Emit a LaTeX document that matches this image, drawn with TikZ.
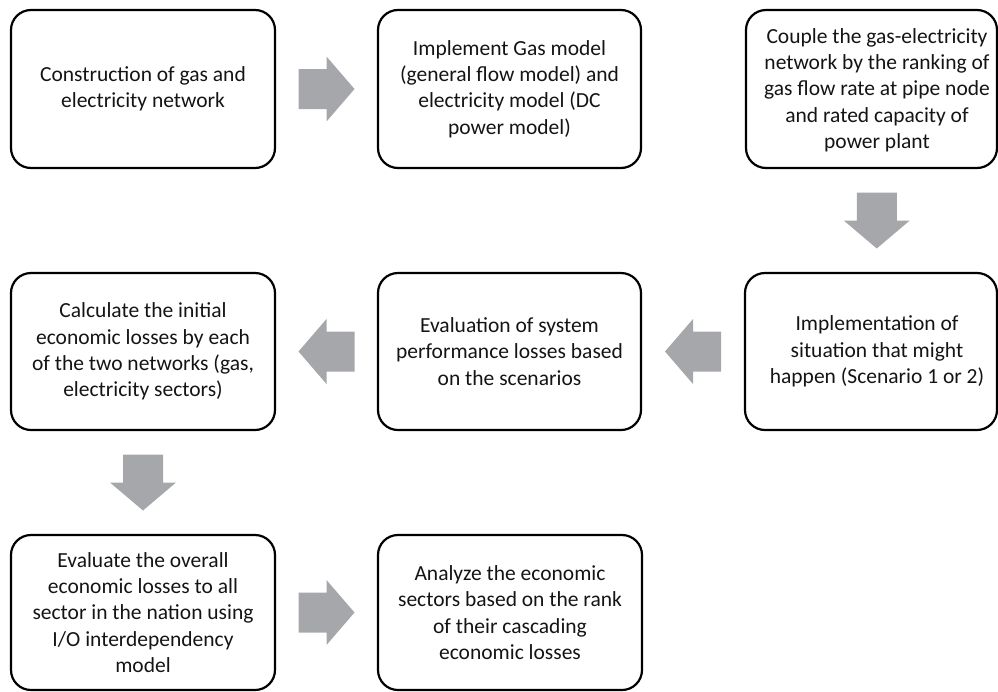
\documentclass[tikz,border=0pt]{standalone}
\usepackage{fontspec}
\setmainfont{Carlito}
\usetikzlibrary{calc}
\definecolor{arrowgray}{RGB}{166,167,170}
\definecolor{txtcol}{RGB}{20,20,20}
\tikzset{
  flowbox/.style={draw=black, line width=2.2pt, rounded corners=20pt, inner sep=0pt, outer sep=0pt,
    align=center, text=txtcol, font=\fontsize{21.5}{26.3}\selectfont},
  flowtext/.style={align=center, inner sep=0pt, text=txtcol, font=\fontsize{21.5}{26.3}\selectfont},
  rarr/.pic={\fill[arrowgray] (-28,-20) -- (0,-20) -- (0,-32.5) -- (28,0) -- (0,32.5) -- (0,20) -- (-28,20) -- cycle;},
  larr/.pic={\fill[arrowgray] (28,-20) -- (0,-20) -- (0,-32.5) -- (-28,0) -- (0,32.5) -- (0,20) -- (28,20) -- cycle;},
  darr/.pic={\fill[arrowgray] (-20,-28) -- (20,-28) -- (20,0) -- (33,0) -- (0,28) -- (-33,0) -- (-20,0) -- cycle;}
}
\begin{document}
\begin{tikzpicture}[x=1pt,y=-1pt]
\useasboundingbox (0,0) rectangle (998,691);
% row 1
\node[flowbox, minimum width=264pt, minimum height=158pt] (b1) at (143,89)
  {Construction of gas and\\electricity network};
\node[flowbox, minimum width=263pt, minimum height=158pt] (b2) at (509.5,89)
  {Implement Gas model\\(general flow model) and\\electricity model (DC\\power model)};
\node[flowbox, minimum width=251pt, minimum height=158pt] (b3) at (871.5,89) {};
\node[flowtext] (t3) at (877,90)
  {Couple the gas-electricity\\network by the ranking of\\gas flow rate at pipe node\\and rated capacity of\\power plant};
% row 2
\node[flowbox, minimum width=252pt, minimum height=157pt] (b4) at (871,351.5) {};
\node[flowtext] (t4) at (877,351.5)
  {Implementation of\\situation that might\\happen (Scenario 1 or 2)};
\node[flowbox, minimum width=263pt, minimum height=157pt] (b5) at (509.5,351.5)
  {Evaluation of system\\performance losses based\\on the scenarios};
\node[flowbox, minimum width=264pt, minimum height=157pt] (b6) at (143,351.5)
  {Calculate the initial\\economic losses by each\\of the two networks (gas,\\electricity sectors)};
% row 3
\node[flowbox, minimum width=264pt, minimum height=155pt] (b7) at (143,612.5)
  {Evaluate the overall\\economic losses to all\\sector in the nation using\\I/O interdependency\\model};
\node[flowbox, minimum width=264pt, minimum height=155pt] (b8) at (510,612.5)
  {Analyze the economic\\sectors based on the rank\\of their cascading\\economic losses};
% block arrows
\pic at ($(b1.east)!0.5!(b2.west)$) {rarr};
\pic at ($($(b3.south)!0.5!(b4.north)$)+(5.5,0)$) {darr};
\pic at ($(b4.west)!0.5!(b5.east)$) {larr};
\pic at ($(b5.west)!0.5!(b6.east)$) {larr};
\pic at ($(b6.south)!0.5!(b7.north)$) {darr};
\pic at ($(b7.east)!0.5!(b8.west)$) {rarr};
\end{tikzpicture}
\end{document}
